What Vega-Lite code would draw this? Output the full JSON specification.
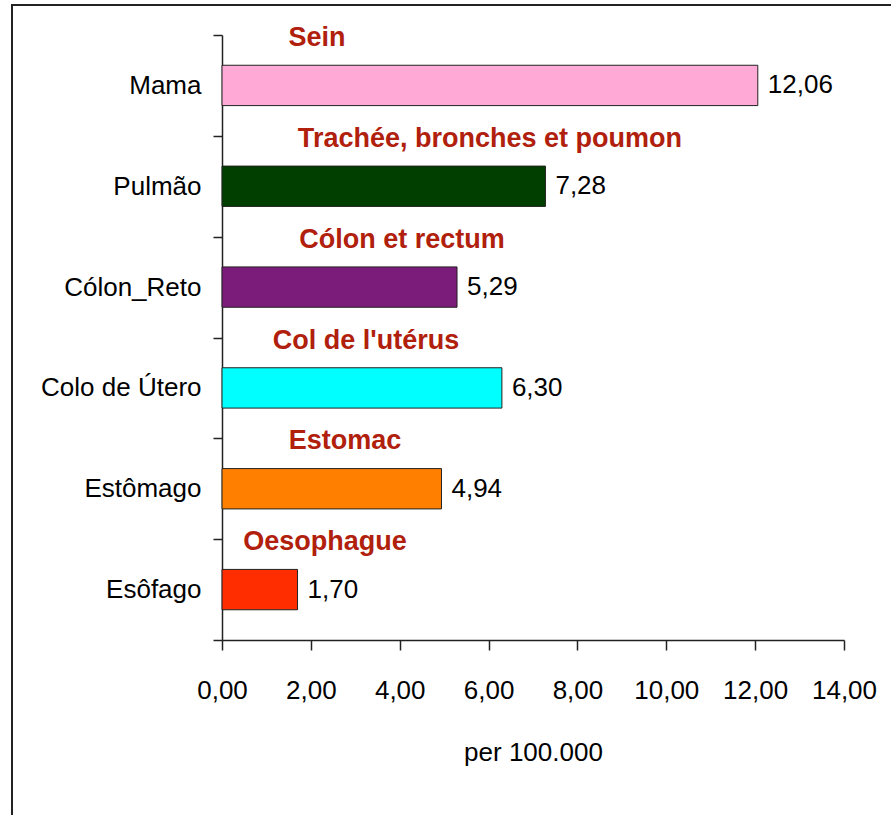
{
  "$schema": "https://vega.github.io/schema/vega-lite/v6.json",
  "autosize": {"type": "none"},
  "padding": {"left": 12, "top": 5, "right": 0, "bottom": 0},
  "width": 900,
  "height": 830,
  "background": "white",
  "config": {
    "view": {"stroke": "#222222", "strokeWidth": 2},
    "font": "Liberation Sans",
    "locale": {"number": {"decimal": ",", "thousands": ".", "grouping": [3], "currency": ["", ""]}}
  },
  "datasets": {
    "rates": [
      {"site": "Mama", "rate": 12.06},
      {"site": "Pulmão", "rate": 7.28},
      {"site": "Cólon_Reto", "rate": 5.29},
      {"site": "Colo de Útero", "rate": 6.30},
      {"site": "Estômago", "rate": 4.94},
      {"site": "Esôfago", "rate": 1.70}
    ],
    "names": [
      {"site": "Mama", "name": "Sein", "at": 2.14},
      {"site": "Pulmão", "name": "Trachée, bronches et poumon", "at": 6.03},
      {"site": "Cólon_Reto", "name": "Cólon et rectum", "at": 4.05},
      {"site": "Colo de Útero", "name": "Col de l'utérus", "at": 3.24},
      {"site": "Estômago", "name": "Estomac", "at": 2.77},
      {"site": "Esôfago", "name": "Oesophague", "at": 2.32}
    ]
  },
  "layer": [
    {
      "data": {"name": "rates"},
      "mark": {"type": "bar", "height": {"band": 0.4}, "stroke": "#222222", "strokeWidth": 1},
      "encoding": {
        "y": {
          "field": "site", "type": "nominal", "sort": null,
          "scale": {"domain": ["Mama", "Pulmão", "Cólon_Reto", "Colo de Útero", "Estômago", "Esôfago"], "range": [30, 635], "paddingInner": 0, "paddingOuter": 0},
          "axis": {
            "title": null, "tickBand": "extent", "tickSize": 9, "labelPadding": 12,
            "labelFont": "Liberation Sans",
            "labelFontSize": 26, "labelColor": "black", "domainColor": "#222222", "tickColor": "#222222",
            "domainWidth": 1.5, "tickWidth": 1.5, "offset": -210, "labelLimit": 400, "grid": false
          }
        },
        "x": {
          "field": "rate", "type": "quantitative",
          "scale": {"domain": [0, 14], "range": [210, 832], "nice": false},
          "axis": {
            "title": "per 100.000", "values": [0, 2, 4, 6, 8, 10, 12, 14], "format": ".2f",
            "tickSize": 10, "offset": -195, "grid": false, "labelPadding": 27,
            "labelFont": "Liberation Sans",
            "labelFontSize": 26, "labelColor": "black", "labelFlush": false, "labelOverlap": false,
            "titleFont": "Liberation Sans",
            "titleFontSize": 26, "titleFontWeight": "normal", "titleColor": "black", "titlePadding": 36,
            "domainColor": "#222222", "tickColor": "#222222", "domainWidth": 1.5, "tickWidth": 1.5
          }
        },
        "color": {
          "field": "site", "type": "nominal",
          "scale": {"domain": ["Mama", "Pulmão", "Cólon_Reto", "Colo de Útero", "Estômago", "Esôfago"],
                    "range": ["#FFAAD6", "#003F00", "#7B1C7B", "#00FFFF", "#FF8000", "#FF2D00"]},
          "legend": null
        }
      }
    },
    {
      "data": {"name": "rates"},
      "mark": {"type": "text", "align": "left", "baseline": "middle", "dx": 10,
               "font": "Liberation Sans", "fontSize": 26, "color": "black"},
      "encoding": {
        "y": {"field": "site", "type": "nominal", "sort": null},
        "x": {"field": "rate", "type": "quantitative"},
        "text": {"field": "rate", "type": "quantitative", "format": ".2f"}
      }
    },
    {
      "data": {"name": "names"},
      "mark": {"type": "text", "align": "center", "baseline": "middle", "dy": 3,
               "font": "Liberation Sans", "fontWeight": "bold", "fontSize": 27, "color": "#B0200C"},
      "encoding": {
        "y": {"field": "site", "type": "nominal", "sort": null, "bandPosition": 0},
        "x": {"field": "at", "type": "quantitative"},
        "text": {"field": "name"}
      }
    }
  ]
}
